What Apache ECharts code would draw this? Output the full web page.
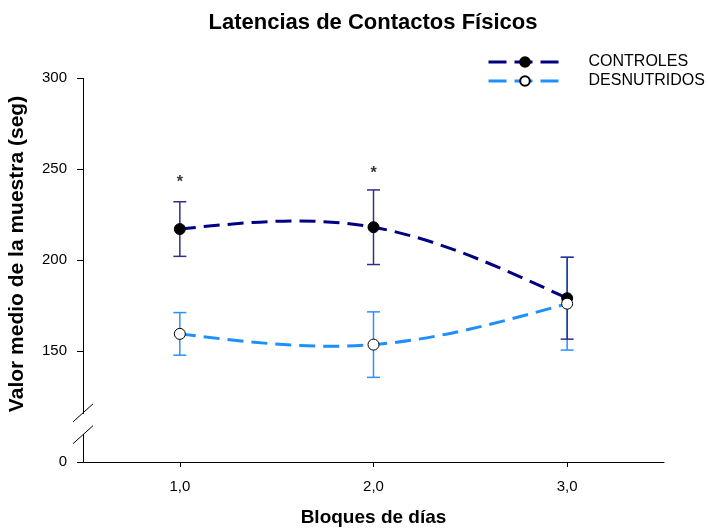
<!DOCTYPE html>
<html><head><meta charset="utf-8">
<script src="https://cdn.jsdelivr.net/npm/echarts@6/dist/echarts.min.js"></script>
<style>html,body{margin:0;padding:0;background:#fff}#c{width:708px;height:529px}</style>
</head><body><div id="c"></div>
<script>
const categories = [1, 2, 3];
const xTickLabels = ['1,0', '2,0', '3,0'];
const yTickValues = [0, 150, 200, 250, 300];
const controlesMean = [217, 218, 179];
const controlesErr = [15, 20.5, 22.5];
const desnutridosMean = [159.4, 153.5, 176];
const desnutridosErr = [11.7, 18, 25.5];
const asteriskX = [1, 2];
const asteriskY = [243.5, 248.5];
const yBreak = { start: 15, end: 116, gap: 12 };

const FONT = 'Liberation Sans, Arial, sans-serif';
const C1 = '#000080', C2 = '#1E8FFF';
const DASH = [16, 8];

function pairs(xs, ys) { return xs.map((x, i) => [x, ys[i]]); }
function errData(xs, m, e) { return xs.map((x, i) => [x, m[i] - e[i], m[i] + e[i]]); }
function errRender(color) {
  return function (params, api) {
    const x = api.value(0), lo = api.value(1), hi = api.value(2);
    const pLo = api.coord([x, lo]), pHi = api.coord([x, hi]);
    const w = 6.5;
    const style = { stroke: color, lineWidth: 1.5 };
    return { type: 'group', children: [
      { type: 'line', shape: { x1: pHi[0], y1: pHi[1], x2: pLo[0], y2: pLo[1] }, style },
      { type: 'line', shape: { x1: pHi[0] - w, y1: pHi[1], x2: pHi[0] + w, y2: pHi[1] }, style },
      { type: 'line', shape: { x1: pLo[0] - w, y1: pLo[1], x2: pLo[0] + w, y2: pLo[1] }, style }
    ] };
  };
}
// natural cubic spline second derivatives
function naturalM(xs, ys) {
  const n = xs.length, M = new Array(n).fill(0);
  if (n < 3) return M;
  const a = [], b = [], c = [], d = [];
  for (let i = 1; i < n - 1; i++) {
    const h0 = xs[i] - xs[i - 1], h1 = xs[i + 1] - xs[i];
    a.push(h0); b.push(2 * (h0 + h1)); c.push(h1);
    d.push(6 * ((ys[i + 1] - ys[i]) / h1 - (ys[i] - ys[i - 1]) / h0));
  }
  const m = b.length;
  for (let i = 1; i < m; i++) {
    const w = a[i] / b[i - 1];
    b[i] -= w * c[i - 1]; d[i] -= w * d[i - 1];
  }
  const sol = new Array(m);
  sol[m - 1] = d[m - 1] / b[m - 1];
  for (let i = m - 2; i >= 0; i--) sol[i] = (d[i] - c[i] * sol[i + 1]) / b[i];
  for (let i = 0; i < m; i++) M[i + 1] = sol[i];
  return M;
}
function splineRender(xs, ys, color) {
  const M = naturalM(xs, ys);
  return function (params, api) {
    if (params.dataIndex !== 0) return null;
    const p0 = api.coord([xs[0], ys[0]]);
    let path = 'M' + p0[0] + ' ' + p0[1];
    for (let i = 0; i < xs.length - 1; i++) {
      const h = xs[i + 1] - xs[i];
      const s = (ys[i + 1] - ys[i]) / h;
      const d0 = s - h * (2 * M[i] + M[i + 1]) / 6;
      const d1 = s + h * (M[i] + 2 * M[i + 1]) / 6;
      const c1 = api.coord([xs[i] + h / 3, ys[i] + d0 * h / 3]);
      const c2 = api.coord([xs[i + 1] - h / 3, ys[i + 1] - d1 * h / 3]);
      const p = api.coord([xs[i + 1], ys[i + 1]]);
      path += ' C' + c1[0] + ' ' + c1[1] + ' ' + c2[0] + ' ' + c2[1] + ' ' + p[0] + ' ' + p[1];
    }
    return { type: 'path', shape: { pathData: path },
      style: { stroke: color, lineWidth: 3, fill: null, lineDash: DASH } };
  };
}

const chart = echarts.init(document.getElementById('c'), null, { renderer: 'canvas' });
const option = {
  animation: false,
  backgroundColor: '#fff',
  textStyle: { fontFamily: FONT },
  title: {
    text: 'Latencias de Contactos Físicos', left: 368, top: 7, textAlign: 'center',
    textStyle: { fontFamily: FONT, fontSize: 22, fontWeight: 'bold', color: '#000' }
  },
  legend: {
    orient: 'vertical', left: 487, top: 54, padding: 0, itemWidth: 73, itemHeight: 12, itemGap: 3,
    textStyle: { fontFamily: FONT, fontSize: 16, lineHeight: 16, color: '#000', padding: [0, 0, 0, 22] },
    data: [
      { name: 'CONTROLES', lineStyle: { opacity: 1, color: C1, width: 3, type: [18, 8] } },
      { name: 'DESNUTRIDOS', lineStyle: { opacity: 1, color: C2, width: 3, type: [18, 8] } }
    ]
  },
  grid: { left: 83, right: 44, top: 78, bottom: 67, containLabel: false, outerBoundsMode: 'none' },
  xAxis: {
    type: 'value', min: 0.5, max: 3.5,
    name: 'Bloques de días', nameLocation: 'middle', nameGap: 46,
    nameTextStyle: { fontFamily: FONT, fontSize: 19, fontWeight: 'bold', color: '#000' },
    splitLine: { show: false },
    axisLine: { show: true, lineStyle: { color: '#000', width: 1 } },
    axisTick: { show: true, length: 5, lineStyle: { color: '#000' }, customValues: categories },
    axisLabel: {
      color: '#000', fontSize: 15, fontFamily: FONT, margin: 17,
      customValues: categories,
      formatter: v => xTickLabels[categories.indexOf(Math.round(v))] || ''
    }
  },
  yAxis: {
    type: 'value', min: 0, max: 300,
    breaks: [yBreak],
    breakArea: { show: false },
    name: 'Valor medio de la muestra (seg)', nameLocation: 'middle', nameGap: 55,
    nameTextStyle: { fontFamily: FONT, fontSize: 21, fontWeight: 'bold', color: '#000', padding: [0, 0, 0, 32] },
    splitLine: { show: false },
    axisLine: { show: true, lineStyle: { color: '#000', width: 1 } },
    axisTick: { show: true, length: 6, lineStyle: { color: '#000' }, customValues: yTickValues },
    axisLabel: {
      color: '#000', fontSize: 15, fontFamily: FONT, margin: 16,
      customValues: yTickValues
    }
  },
  series: [
    {
      type: 'custom', name: 'lineC', renderItem: splineRender(categories, controlesMean, C1), z: 2,
      encode: { x: 0, y: 1 }, data: pairs(categories, controlesMean), silent: true
    },
    {
      type: 'custom', name: 'lineD', renderItem: splineRender(categories, desnutridosMean, C2), z: 2,
      encode: { x: 0, y: 1 }, data: pairs(categories, desnutridosMean), silent: true
    },
    {
      type: 'custom', name: 'errD', renderItem: errRender('#2f8fff'), z: 1,
      encode: { x: 0, y: [1, 2] }, data: errData(categories, desnutridosMean, desnutridosErr)
    },
    {
      type: 'custom', name: 'errC', renderItem: errRender('#30308c'), z: 1,
      encode: { x: 0, y: [1, 2] }, data: errData(categories, controlesMean, controlesErr)
    },
    {
      name: 'CONTROLES', type: 'line', data: pairs(categories, controlesMean),
      symbol: 'circle', symbolSize: 11, z: 3,
      lineStyle: { color: C1, width: 3, type: DASH, opacity: 0 },
      itemStyle: { color: '#000', borderColor: '#000', borderWidth: 1 }
    },
    {
      name: 'DESNUTRIDOS', type: 'line', data: pairs(categories, desnutridosMean),
      symbol: 'circle', symbolSize: 11, z: 4,
      lineStyle: { color: C2, width: 3, type: DASH, opacity: 0 },
      itemStyle: { color: '#fff', borderColor: '#000', borderWidth: 1 }
    },
    {
      type: 'scatter', name: 'ast', data: pairs(asteriskX, asteriskY),
      symbol: 'circle', symbolSize: 1, itemStyle: { color: 'rgba(0,0,0,0)' },
      label: { show: true, position: 'inside', formatter: '*', color: '#000', fontSize: 16, fontWeight: 'bold', fontFamily: FONT, offset: [0, 2] },
      silent: true
    }
  ]
};
chart.setOption(option);

const p1 = chart.convertToPixel({ gridIndex: 0 }, [0.5, yBreak.start]);
const p2 = chart.convertToPixel({ gridIndex: 0 }, [0.5, yBreak.end]);
const slash = p => ({
  type: 'line', shape: { x1: p[0] - 10, y1: p[1] + 9, x2: p[0] + 10, y2: p[1] - 9 },
  style: { stroke: '#000', lineWidth: 1 }, z: 100
});
chart.setOption({ graphic: [slash(p1), slash(p2)] });
</script>
</body></html>
